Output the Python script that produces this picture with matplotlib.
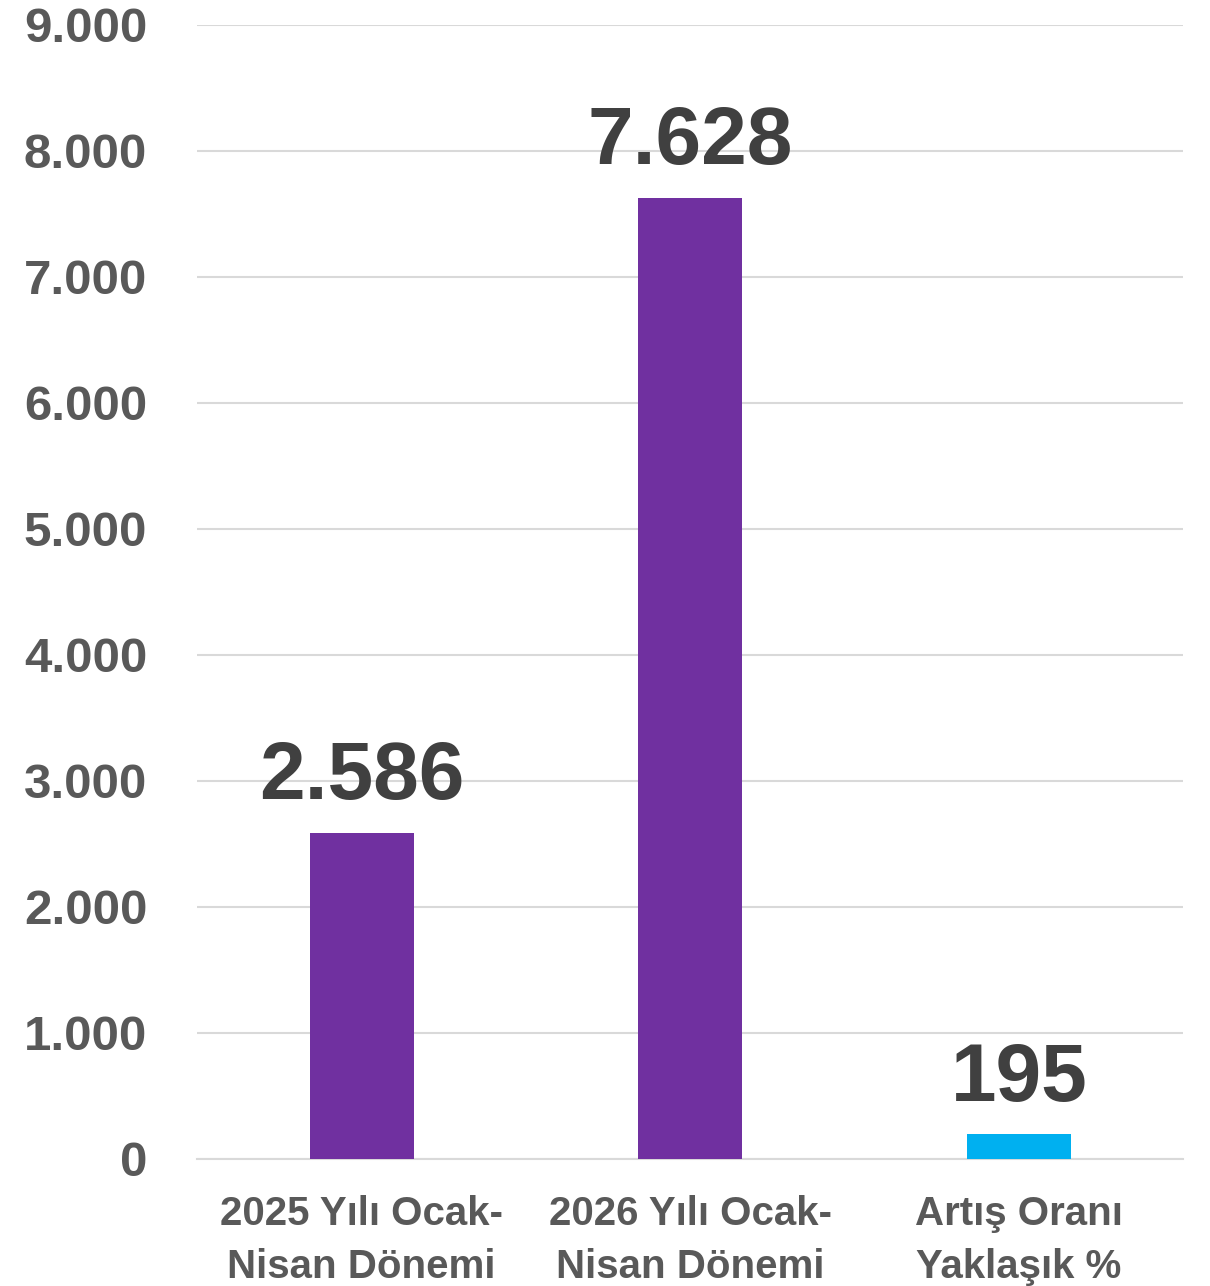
import matplotlib.pyplot as plt
from matplotlib import font_manager

# data
categories = ["2025 Yılı Ocak-\nNisan Dönemi", "2026 Yılı Ocak-\nNisan Dönemi", "Artış Oranı\nYaklaşık %"]
values = [2586, 7628, 195]
value_labels = ["2.586", "7.628", "195"]
yticks = [0, 1000, 2000, 3000, 4000, 5000, 6000, 7000, 8000, 9000]
ytick_labels = ["0", "1.000", "2.000", "3.000", "4.000", "5.000", "6.000", "7.000", "8.000", "9.000"]
bar_colors = ["#7030A0", "#7030A0", "#00B0F0"]

names = {f.name for f in font_manager.fontManager.ttflist}
narrow = "Liberation Sans Narrow" if "Liberation Sans Narrow" in names else "Liberation Sans"

fig = plt.figure(figsize=(12.1, 12.86), dpi=100)
ax = fig.add_axes([0.163, 0.0988, 0.815, 0.8818])

x = list(range(len(categories)))
bars = ax.bar(x, values, width=0.316, color=bar_colors, zorder=3)

ax.set_xlim(-0.5, len(categories) - 0.5)
ax.set_ylim(0, 9000)
ax.set_yticks(yticks)
ax.set_yticklabels(ytick_labels, fontsize=35.5, fontweight="bold",
                   color="#595959", family=["Liberation Sans", "DejaVu Sans"])
ax.set_xticks(x)
ax.set_xticklabels(categories, fontsize=29, fontweight="bold", color="#595959",
                   family=[narrow, "DejaVu Sans"], linespacing=1.5)
ax.tick_params(axis="y", length=0, pad=36)
ax.tick_params(axis="x", length=0, pad=26)

ax.grid(axis="y", color="#D9D9D9", linewidth=1.5, zorder=0)
for side in ["top", "right", "left"]:
    ax.spines[side].set_visible(False)
ax.spines["bottom"].set_color("#D9D9D9")
ax.spines["bottom"].set_linewidth(1.5)

# value labels above the bars
for bar, lab in zip(bars, value_labels):
    ax.annotate(lab, (bar.get_x() + bar.get_width() / 2, bar.get_height()),
                xytext=(0, 12), textcoords="offset points",
                ha="center", va="bottom", fontsize=59, fontweight="bold",
                color="#404040", family=["Liberation Sans", "DejaVu Sans"])

fig.savefig("out.png", dpi=100)
